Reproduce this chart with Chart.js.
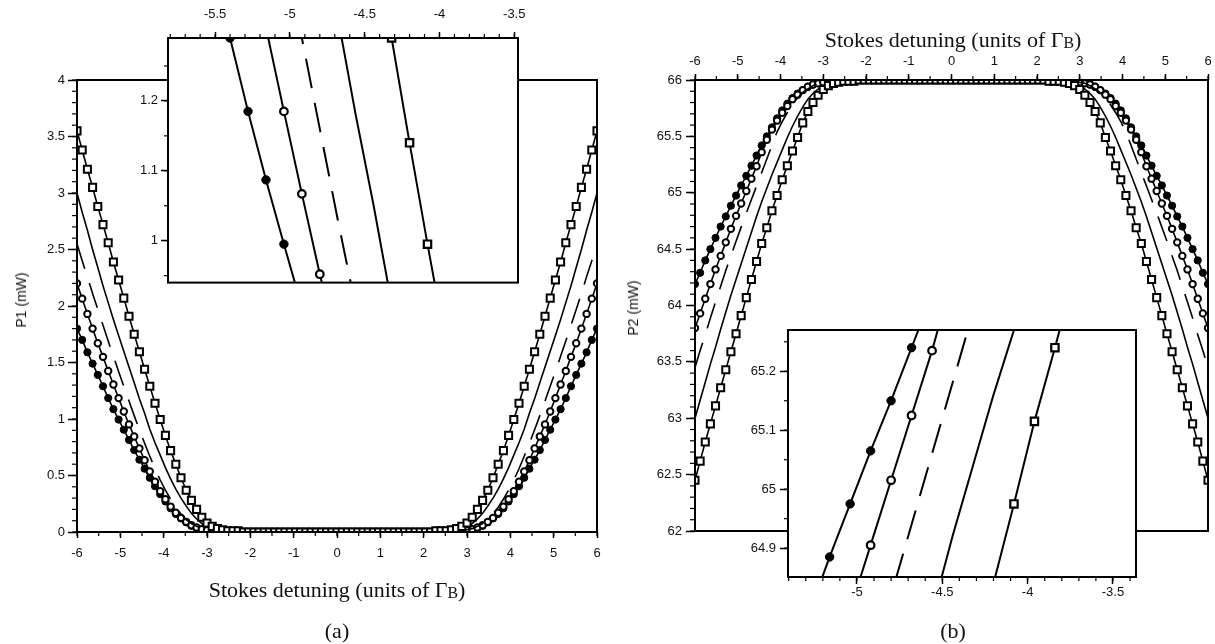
<!DOCTYPE html>
<html>
<head>
<meta charset="utf-8">
<title>Stokes detuning: P1 and P2</title>
<script src="https://cdn.jsdelivr.net/npm/chart.js@4.4.1/dist/chart.umd.min.js"></script>
<style>
  html, body { margin: 0; padding: 0; background: #fff; }
  #fig { position: relative; width: 1215px; height: 644px; overflow: hidden; background: #fff; }
  canvas { position: absolute; }
  .lbl { position: absolute; white-space: nowrap; color: #111; transform: translate(-50%, -50%); }
  .serif { font-family: "Liberation Serif", "Times New Roman", serif; font-size: 22px; }
  .sans { font-family: "Liberation Sans", Arial, sans-serif; font-size: 14px; }
  .rot { transform: translate(-50%, -50%) rotate(-90deg); }
  .sub { font-size: 72%; position: relative; top: 1px; }
</style>
</head>
<body>
<div id="fig">
  <canvas id="mainA" width="615" height="644" style="left:0px;top:0px"></canvas>
  <canvas id="insetA" width="410" height="290" style="left:120px;top:0px"></canvas>
  <canvas id="mainB" width="600" height="644" style="left:615px;top:0px"></canvas>
  <canvas id="insetB" width="420" height="290" style="left:730px;top:320px"></canvas>

  <div class="lbl sans rot" style="left:21px;top:300px">P1 (mW)</div>
  <div class="lbl serif" style="left:337px;top:590px">Stokes detuning (units of Γ<span class="sub">B</span>)</div>
  <div class="lbl serif" style="left:337px;top:631px">(a)</div>

  <div class="lbl sans rot" style="left:633px;top:308px">P2 (mW)</div>
  <div class="lbl serif" style="left:953px;top:40px">Stokes detuning (units of Γ<span class="sub">B</span>)</div>
  <div class="lbl serif" style="left:953px;top:631px">(b)</div>
</div>

<script>
// Stokes detuning grid (units of Gamma_B)
const detuning = [
  -6,-5.88,-5.76,-5.64,-5.52,-5.4,-5.28,-5.16,-5.04,-4.92,
  -4.8,-4.68,-4.56,-4.44,-4.32,-4.2,-4.08,-3.96,-3.84,-3.72,
  -3.6,-3.48,-3.36,-3.24,-3.12,-3,-2.88,-2.76,-2.64,-2.52,
  -2.4,-2.28,-2.16,-2.04,-1.92,-1.8,-1.68,-1.56,-1.44,-1.32,
  -1.2,-1.08,-0.96,-0.84,-0.72,-0.6,-0.48,-0.36,-0.24,-0.12,
  0,
  0.12,0.24,0.36,0.48,0.6,0.72,0.84,0.96,1.08,1.2,
  1.32,1.44,1.56,1.68,1.8,1.92,2.04,2.16,2.28,2.4,
  2.52,2.64,2.76,2.88,3,3.12,3.24,3.36,3.48,3.6,
  3.72,3.84,3.96,4.08,4.2,4.32,4.44,4.56,4.68,4.8,
  4.92,5.04,5.16,5.28,5.4,5.52,5.64,5.76,5.88,6
];

// P1 (mW)
const p1Squares = [
  3.55,3.38,3.21,3.05,2.88,2.72,2.56,2.39,2.23,2.07,
  1.91,1.75,1.595,1.44,1.29,1.14,0.995,0.855,0.72,0.6,
  0.48,0.37,0.28,0.2,0.13,0.08,0.05,0.03,0.02,0.01,
  0.01,0.01,0,0,
  0,0,0,0,0,0,0,0,0,0,0,
  0,0,0,0,0,0,0,0,0,0,0,
  0,0,0,0,0,0,0,0,0,0,0,
  0,0,0.01,0.01,0.01,0.02,0.03,0.05,0.08,0.13,
  0.2,0.28,0.37,0.48,0.6,0.72,0.855,0.995,1.14,1.29,
  1.44,1.595,1.75,1.91,2.07,2.23,2.39,2.56,2.72,2.88,
  3.05,3.21,3.38,3.55
];
const p1Solid = [
  3,2.83,2.67,2.5,2.34,2.18,2.03,1.88,1.74,1.6,
  1.46,1.32,1.18,1.05,0.91,0.79,0.68,0.57,0.47,0.38,
  0.3,0.23,0.165,0.115,0.075,0.045,0.03,0.02,0.01,0.01,
  0,0,0,0,
  0,0,0,0,0,0,0,0,0,0,0,
  0,0,0,0,0,0,0,0,0,0,0,
  0,0,0,0,0,0,0,0,0,0,0,
  0,0,0,0,0.01,0.01,0.02,0.03,0.045,0.075,
  0.115,0.165,0.23,0.3,0.38,0.47,0.57,0.68,0.79,0.91,
  1.05,1.18,1.32,1.46,1.6,1.74,1.88,2.03,2.18,2.34,
  2.5,2.67,2.83,3
];
const p1Dashed = [
  2.55,2.4,2.26,2.11,1.97,1.83,1.69,1.555,1.42,1.29,
  1.16,1.03,0.905,0.785,0.67,0.56,0.46,0.37,0.29,0.22,
  0.16,0.11,0.075,0.05,0.03,0.02,0.01,0.01,0,0,
  0,0,0,0,
  0,0,0,0,0,0,0,0,0,0,0,
  0,0,0,0,0,0,0,0,0,0,0,
  0,0,0,0,0,0,0,0,0,0,0,
  0,0,0,0,0,0,0.01,0.01,0.02,0.03,
  0.05,0.075,0.11,0.16,0.22,0.29,0.37,0.46,0.56,0.67,
  0.785,0.905,1.03,1.16,1.29,1.42,1.555,1.69,1.83,1.97,
  2.11,2.26,2.4,2.55
];
const p1Open = [
  2.2,2.065,1.93,1.8,1.67,1.55,1.425,1.305,1.185,1.067,
  0.952,0.845,0.74,0.635,0.535,0.445,0.36,0.29,0.225,0.17,
  0.125,0.09,0.06,0.04,0.025,0.015,0.01,0,0,0,
  0,0,0,0,
  0,0,0,0,0,0,0,0,0,0,0,
  0,0,0,0,0,0,0,0,0,0,0,
  0,0,0,0,0,0,0,0,0,0,0,
  0,0,0,0,0,0,0,0.01,0.015,0.025,
  0.04,0.06,0.09,0.125,0.17,0.225,0.29,0.36,0.445,0.535,
  0.635,0.74,0.845,0.952,1.067,1.185,1.305,1.425,1.55,1.67,
  1.8,1.93,2.065,2.2
];
const p1Filled = [
  1.8,1.7,1.59,1.49,1.39,1.29,1.185,1.087,0.995,0.905,
  0.815,0.725,0.64,0.56,0.48,0.405,0.335,0.27,0.21,0.16,
  0.12,0.085,0.055,0.035,0.02,0.01,0.01,0,0,0,
  0,0,0,0,
  0,0,0,0,0,0,0,0,0,0,0,
  0,0,0,0,0,0,0,0,0,0,0,
  0,0,0,0,0,0,0,0,0,0,0,
  0,0,0,0,0,0,0,0.01,0.01,0.02,
  0.035,0.055,0.085,0.12,0.16,0.21,0.27,0.335,0.405,0.48,
  0.56,0.64,0.725,0.815,0.905,0.995,1.087,1.185,1.29,1.39,
  1.49,1.59,1.7,1.8
];

// P2 (mW)
const p2Squares = [
  62.45,62.62,62.79,62.95,63.11,63.27,63.43,63.59,63.75,63.91,
  64.07,64.23,64.39,64.55,64.69,64.84,64.975,65.115,65.24,65.37,
  65.49,65.62,65.72,65.8,65.865,65.915,65.95,65.97,65.98,65.99,
  65.99,65.99,66,66,
  66,66,66,66,66,66,66,66,66,66,66,
  66,66,66,66,66,66,66,66,66,66,66,
  66,66,66,66,66,66,66,66,66,66,66,
  66,66,65.99,65.99,65.99,65.98,65.97,65.95,65.915,65.865,
  65.8,65.72,65.62,65.49,65.37,65.24,65.115,64.975,64.84,64.69,
  64.55,64.39,64.23,64.07,63.91,63.75,63.59,63.43,63.27,63.11,
  62.95,62.79,62.62,62.45
];
const p2Solid = [
  63,63.16,63.32,63.48,63.63,63.79,63.94,64.09,64.23,64.37,
  64.51,64.65,64.79,64.92,65.04,65.16,65.27,65.38,65.49,65.59,
  65.68,65.76,65.83,65.88,65.92,65.95,65.97,65.98,65.99,65.99,
  66,66,66,66,
  66,66,66,66,66,66,66,66,66,66,66,
  66,66,66,66,66,66,66,66,66,66,66,
  66,66,66,66,66,66,66,66,66,66,66,
  66,66,66,66,65.99,65.99,65.98,65.97,65.95,65.92,
  65.88,65.83,65.76,65.68,65.59,65.49,65.38,65.27,65.16,65.04,
  64.92,64.79,64.65,64.51,64.37,64.23,64.09,63.94,63.79,63.63,
  63.48,63.32,63.16,63
];
const p2Dashed = [
  63.45,63.6,63.74,63.89,64.03,64.17,64.31,64.44,64.57,64.695,
  64.82,64.94,65.06,65.18,65.3,65.42,65.54,65.63,65.71,65.78,
  65.84,65.89,65.92,65.95,65.97,65.98,65.99,65.99,66,66,
  66,66,66,66,
  66,66,66,66,66,66,66,66,66,66,66,
  66,66,66,66,66,66,66,66,66,66,66,
  66,66,66,66,66,66,66,66,66,66,66,
  66,66,66,66,66,66,65.99,65.99,65.98,65.97,
  65.95,65.92,65.89,65.84,65.78,65.71,65.63,65.54,65.42,65.3,
  65.18,65.06,64.94,64.82,64.695,64.57,64.44,64.31,64.17,64.03,
  63.89,63.74,63.6,63.45
];
const p2Open = [
  63.8,63.93,64.06,64.19,64.32,64.44,64.56,64.68,64.795,64.905,
  65.015,65.125,65.235,65.36,65.47,65.56,65.64,65.71,65.77,65.83,
  65.87,65.91,65.94,65.96,65.97,65.98,65.99,66,66,66,
  66,66,66,66,
  66,66,66,66,66,66,66,66,66,66,66,
  66,66,66,66,66,66,66,66,66,66,66,
  66,66,66,66,66,66,66,66,66,66,66,
  66,66,66,66,66,66,66,65.99,65.98,65.97,
  65.96,65.94,65.91,65.87,65.83,65.77,65.71,65.64,65.56,65.47,
  65.36,65.235,65.125,65.015,64.905,64.795,64.68,64.56,64.44,64.32,
  64.19,64.06,63.93,63.8
];
const p2Filled = [
  64.19,64.29,64.4,64.5,64.6,64.7,64.79,64.885,64.975,65.065,
  65.15,65.24,65.33,65.42,65.5,65.58,65.66,65.73,65.79,65.84,
  65.88,65.91,65.94,65.96,65.98,65.99,65.99,66,66,66,
  66,66,66,66,
  66,66,66,66,66,66,66,66,66,66,66,
  66,66,66,66,66,66,66,66,66,66,66,
  66,66,66,66,66,66,66,66,66,66,66,
  66,66,66,66,66,66,66,65.99,65.99,65.98,
  65.96,65.94,65.91,65.88,65.84,65.79,65.73,65.66,65.58,65.5,
  65.42,65.33,65.24,65.15,65.065,64.975,64.885,64.79,64.7,64.6,
  64.5,64.4,64.29,64.19
];

// Tick labels
const ticksDetuning = [-6,-5,-4,-3,-2,-1,0,1,2,3,4,5,6];
const ticksP1 = [0,0.5,1,1.5,2,2.5,3,3.5,4];
const ticksP2 = [62,62.5,63,63.5,64,64.5,65,65.5,66];
const ticksInsetAX = [-5.5,-5,-4.5,-4,-3.5];
const ticksInsetAY = [1,1.1,1.2];
const ticksInsetBX = [-5,-4.5,-4,-3.5];
const ticksInsetBY = [64.9,65,65.1,65.2];

Chart.defaults.font.family = '"Liberation Sans", Arial, sans-serif';
Chart.defaults.color = '#111';

// Frame around the plot area, optional white backing, and short minor ticks
function decor(spec) {
  return {
    id: 'decor',
    beforeDraw(chart) {
      if (!spec.fill) return;
      const a = chart.chartArea, c = chart.ctx;
      c.save();
      c.fillStyle = '#fff';
      c.fillRect(a.left, a.top, a.right - a.left, a.bottom - a.top);
      c.restore();
    },
    afterDraw(chart) {
      const a = chart.chartArea, c = chart.ctx;
      c.save();
      c.strokeStyle = '#000';
      c.lineWidth = 1.2;
      for (const m of spec.minor) {
        const s = chart.scales[m.axis];
        const lo = Math.ceil(s.min / m.step - 1e-6), hi = Math.floor(s.max / m.step + 1e-6);
        for (let k = lo; k <= hi; k++) {
          const p = s.getPixelForValue(k * m.step);
          c.beginPath();
          if (s.position === 'bottom') { c.moveTo(p, a.bottom); c.lineTo(p, a.bottom + m.len); }
          else if (s.position === 'top') { c.moveTo(p, a.top); c.lineTo(p, a.top - m.len); }
          else { c.moveTo(a.left, p); c.lineTo(a.left - m.len, p); }
          c.stroke();
        }
      }
      c.lineWidth = 2;
      c.strokeRect(a.left, a.top, a.right - a.left, a.bottom - a.top);
      c.restore();
    }
  };
}

function axis(position, min, max, ticks, tickLen, pad, size) {
  return {
    type: 'linear', position, min, max,
    afterBuildTicks: s => { s.ticks = ticks.map(v => ({ value: v })); },
    afterFit: s => {
      if (s.isHorizontal()) s.height = size; else s.width = size;
      s.paddingLeft = s.paddingRight = s.paddingTop = s.paddingBottom = 0;
    },
    ticks: {
      autoSkip: false, maxRotation: 0, minRotation: 0, padding: pad, color: '#111',
      font: { size: 13 },
      callback: v => String(Math.round(v * 100) / 100)
    },
    grid: { drawOnChartArea: false, drawTicks: true, tickLength: tickLen, tickColor: '#000', tickWidth: 1.5 },
    border: { display: false }
  };
}

function series(ys, kind, inset) {
  const ds = {
    data: detuning.map((x, i) => ({ x, y: ys[i] })),
    borderColor: '#000', borderWidth: inset ? 2 : 1.6, tension: 0, fill: false,
    clip: 0, pointRadius: 0, pointHoverRadius: 0
  };
  if (kind === 'square') Object.assign(ds, {
    pointStyle: 'rect', pointRadius: inset ? 5.2 : 5, pointBorderWidth: inset ? 2.2 : 2,
    pointBackgroundColor: '#fff', pointBorderColor: '#000'
  });
  if (kind === 'open') Object.assign(ds, {
    pointStyle: 'circle', pointRadius: inset ? 3.8 : 3.2, pointBorderWidth: inset ? 2.2 : 2,
    pointBackgroundColor: '#fff', pointBorderColor: '#000'
  });
  if (kind === 'filled') Object.assign(ds, {
    pointStyle: 'circle', pointRadius: inset ? 4.2 : 3.6, pointBorderWidth: 1,
    pointBackgroundColor: '#000', pointBorderColor: '#000'
  });
  if (kind === 'dashed') ds.borderDash = inset ? [30, 15] : [26, 15];
  return ds;
}

function panel(set, inset) {
  return [
    series(set[0], 'square', inset),
    series(set[1], 'solid', inset),
    series(set[2], 'dashed', inset),
    series(set[3], 'open', inset),
    series(set[4], 'filled', inset)
  ];
}

const p1Set = [p1Squares, p1Solid, p1Dashed, p1Open, p1Filled];
const p2Set = [p2Squares, p2Solid, p2Dashed, p2Open, p2Filled];

function makeChart(id, datasets, scales, padding, spec) {
  return new Chart(document.getElementById(id), {
    type: 'line',
    data: { datasets },
    options: {
      responsive: false, animation: false, devicePixelRatio: 1,
      events: [],
      layout: { padding },
      plugins: { legend: { display: false }, tooltip: { enabled: false }, title: { display: false } },
      scales
    },
    plugins: [decor(spec)]
  });
}

// (a) P1 versus detuning
makeChart('mainA', panel(p1Set, false), {
  x: axis('bottom', -6, 6, ticksDetuning, 6, 8, 40),
  y: axis('left', 0, 4, ticksP1, 9, 3, 77)
}, { left: 0, right: 18, top: 80, bottom: 72 },
{ fill: false, minor: [{ axis: 'x', step: 0.5, len: 4 }, { axis: 'y', step: 0.1, len: 5 }] });

// (a) magnified view
makeChart('insetA', panel(p1Set, true), {
  x: axis('top', -5.815, -3.475, ticksInsetAX, 6, 10, 38),
  y: axis('left', 0.94, 1.29, ticksInsetAY, 7, 3, 48)
}, { left: 0, right: 12, top: 0, bottom: 5 },
{ fill: true, minor: [{ axis: 'x', step: 0.1, len: 4 }, { axis: 'y', step: 0.05, len: 4 }] });

// (b) P2 versus detuning
makeChart('mainB', panel(p2Set, false), {
  x: axis('top', -6, 6, ticksDetuning, 6, 5, 80),
  y: axis('left', 62, 66, ticksP2, 9, 4, 80)
}, { left: 0, right: 4, top: 0, bottom: 113 },
{ fill: false, minor: [{ axis: 'x', step: 0.5, len: 4 }, { axis: 'y', step: 0.1, len: 5 }] });

// (b) magnified view
makeChart('insetB', panel(p2Set, true), {
  x: axis('bottom', -5.404, -3.365, ticksInsetBX, 7, 1, 33),
  y: axis('left', 64.851, 65.27, ticksInsetBY, 8, 4, 58)
}, { left: 0, right: 14, top: 10, bottom: 0 },
{ fill: true, minor: [{ axis: 'x', step: 0.1, len: 4 }, { axis: 'y', step: 0.05, len: 4 }] });
</script>
</body>
</html>
